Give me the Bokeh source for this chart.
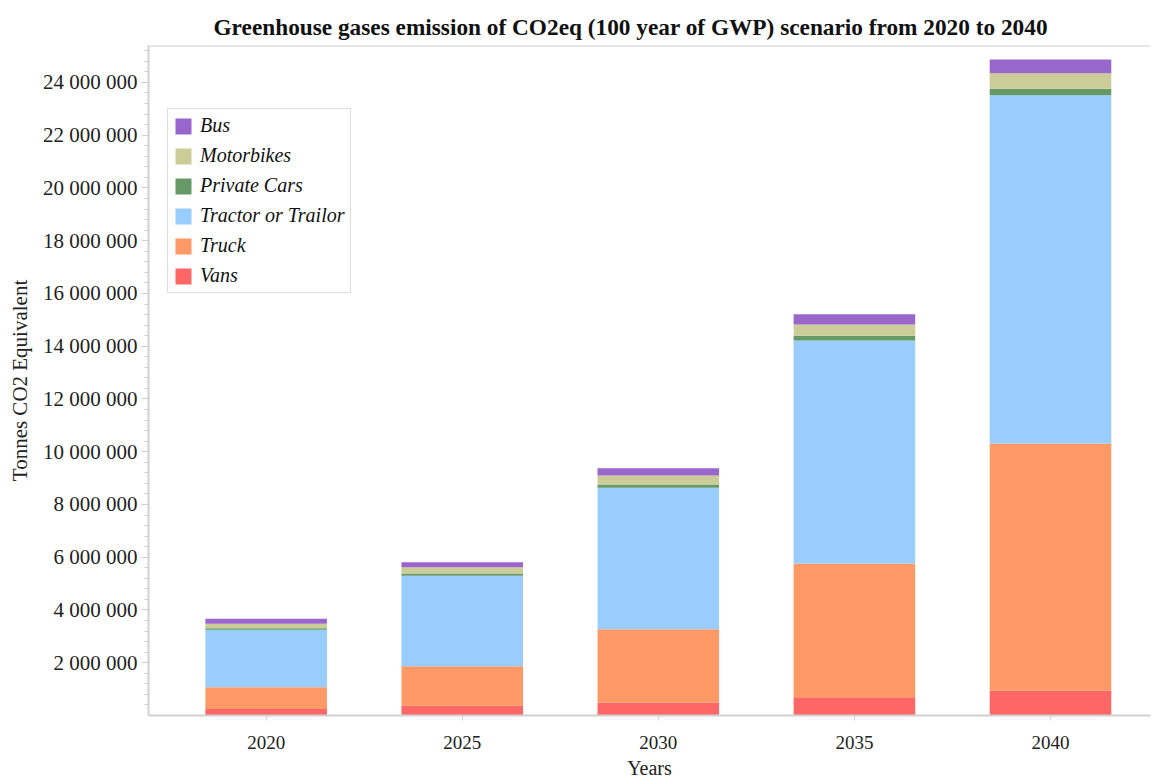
from bokeh.plotting import figure
from bokeh.models import (FixedTicker, CustomJSTickFormatter, Legend, LegendItem,
                          Span, ColumnDataSource)
from bokeh.embed import file_html
from bokeh.resources import INLINE

years = [2020, 2025, 2030, 2035, 2040]
year_labels = ["2020", "2025", "2030", "2035", "2040"]
series = ["Vans", "Truck", "Tractor or Trailor", "Private Cars", "Motorbikes", "Bus"]
vans = [250000, 370000, 490000, 690000, 950000]
truck = [820000, 1500000, 2780000, 5070000, 9360000]
tractor = [2180000, 3430000, 5360000, 8460000, 13200000]
private_cars = [60000, 80000, 125000, 180000, 250000]
motorbikes = [170000, 240000, 340000, 420000, 590000]
bus = [190000, 190000, 280000, 390000, 520000]
colors = ["#FF6666", "#FF9966", "#99CCFF", "#669966", "#CCCC99", "#9966CC"]
y_ticks = [2000000 * i for i in range(1, 13)]

SERIF = "Liberation Serif"

data = {"x": years, "Vans": vans, "Truck": truck, "Tractor or Trailor": tractor,
        "Private Cars": private_cars, "Motorbikes": motorbikes, "Bus": bus}
src = ColumnDataSource(data)

p = figure(width=1161, height=781, output_backend="svg", toolbar_location=None,
           x_range=(2017.0, 2042.55), y_range=(0, 25400000),
           min_border_left=148, min_border_right=11, min_border_top=45,
           min_border_bottom=66)

renderers = p.vbar_stack(series, x="x", width=3.1, source=src, color=colors,
                         line_color=None)

p.title.text = "Greenhouse gases emission of CO2eq (100 year of GWP) scenario from 2020 to 2040"
p.title.align = "left"
p.title.offset = 65
p.title.standoff = 12
p.title.text_font = SERIF
p.title.text_font_size = "23.3px"
p.title.text_font_style = "bold"
p.title.text_color = "#111111"

p.xgrid.grid_line_color = None
p.ygrid.grid_line_color = None
p.outline_line_color = None

axis_col = "#d0d0d0"
# x axis
xa = p.xaxis[0]
xa.ticker = FixedTicker(ticks=years)
xa.major_label_overrides = {y: l for y, l in zip(years, year_labels)}
xa.axis_label = "Years"
xa.axis_label_text_font = SERIF
xa.axis_label_text_font_style = "normal"
xa.axis_label_text_font_size = "20px"
xa.axis_label_text_color = "#222222"
xa.axis_label_standoff = 5
xa.major_label_text_font = SERIF
xa.major_label_text_font_size = "19px"
xa.major_label_text_color = "#222222"
xa.major_label_standoff = 15
xa.axis_line_color = axis_col
xa.axis_line_width = 2
xa.major_tick_line_color = axis_col
xa.major_tick_out = 5
xa.major_tick_in = 0
xa.minor_tick_line_color = None

# y axis
ya = p.yaxis[0]
ya.ticker = FixedTicker(ticks=y_ticks,
                        minor_ticks=[400000 * i for i in range(1, 64)])
ya.formatter = CustomJSTickFormatter(code="""
    return Math.round(tick).toString().replace(/\\B(?=(\\d{3})+(?!\\d))/g, "\\u00a0");
""")
ya.axis_label = "Tonnes CO2 Equivalent"
ya.axis_label_text_font = SERIF
ya.axis_label_text_font_style = "normal"
ya.axis_label_text_font_size = "21px"
ya.axis_label_text_color = "#222222"
ya.axis_label_standoff = 8
ya.major_label_text_font = SERIF
ya.major_label_text_font_size = "21px"
ya.major_label_text_color = "#222222"
ya.major_label_standoff = 4
ya.axis_line_color = axis_col
ya.axis_line_width = 2
ya.major_tick_line_color = axis_col
ya.major_tick_out = 7
ya.major_tick_in = 0
ya.minor_tick_line_color = axis_col
ya.minor_tick_out = 4
ya.minor_tick_in = 0

p.add_layout(Span(location=25400000, dimension="width", line_color=axis_col,
                  line_width=2))

items = [LegendItem(label=s, renderers=[r]) for s, r in zip(series, renderers)]
items.reverse()
legend = Legend(items=items, location=(19, 422))
legend.label_text_font = SERIF
legend.label_text_font_style = "italic"
legend.label_text_font_size = "20px"
legend.label_text_color = "#111111"
legend.glyph_width = 20
legend.glyph_height = 20
legend.label_height = 20
legend.spacing = 7
legend.padding = 5
legend.margin = 0
legend.label_standoff = 7
legend.border_line_color = "#bbbbbb"
legend.border_line_width = 1
legend.background_fill_alpha = 1
p.add_layout(legend, "center")

open("out.html", "w").write(file_html(p, INLINE))
